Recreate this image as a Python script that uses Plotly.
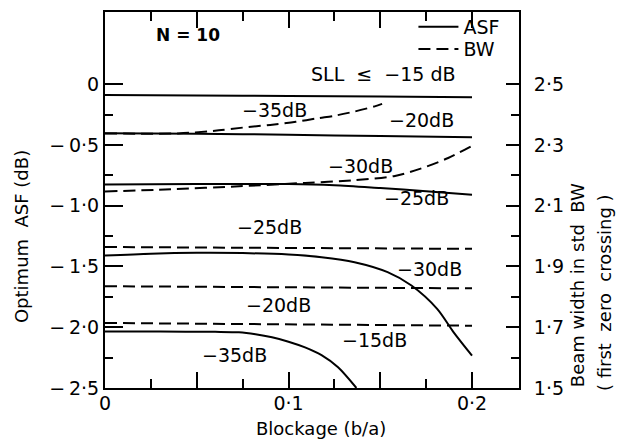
import plotly.graph_objects as go

# ---------------- data ----------------
# Blockage (b/a) values and optimum ASF (dB) for each SLL constraint (solid lines, left axis)
asf15_x = [0, 0.05, 0.1, 0.15, 0.2]
asf15_y = [-0.09, -0.093, -0.097, -0.102, -0.107]
asf20_x = [0, 0.05, 0.1, 0.15, 0.2]
asf20_y = [-0.404, -0.408, -0.416, -0.427, -0.437]
asf25_x = [0, 0.05, 0.1, 0.125, 0.15, 0.175, 0.2]
asf25_y = [-0.825, -0.822, -0.822, -0.832, -0.855, -0.88, -0.91]
asf30_x = [0, 0.025, 0.05, 0.075, 0.1, 0.118, 0.136, 0.154, 0.167, 0.181, 0.19, 0.2]
asf30_y = [-1.41, -1.395, -1.388, -1.39, -1.402, -1.424, -1.465, -1.547, -1.657, -1.849, -2.042, -2.234]
asf35_x = [0, 0.03, 0.06, 0.073, 0.082, 0.091, 0.1, 0.109, 0.118, 0.127, 0.137]
asf35_y = [-2.036, -2.036, -2.038, -2.042, -2.058, -2.083, -2.119, -2.166, -2.23, -2.33, -2.5]

# Beam width in std BW (dashed lines, right axis)
bw35_x = [0, 0.04, 0.062, 0.075, 0.09, 0.104, 0.116, 0.125, 0.136, 0.147, 0.151]
bw35_y = [2.338, 2.338, 2.348, 2.357, 2.366, 2.376, 2.388, 2.396, 2.41, 2.427, 2.435]
bw30_x = [0, 0.036, 0.073, 0.109, 0.136, 0.158, 0.172, 0.187, 0.2]
bw30_y = [2.147, 2.154, 2.164, 2.175, 2.184, 2.198, 2.222, 2.257, 2.297]
bw25_x = [0, 0.2]
bw25_y = [1.964, 1.958]
bw20_x = [0, 0.2]
bw20_y = [1.835, 1.828]
bw15_x = [0, 0.2]
bw15_y = [1.714, 1.705]

# axis ticks
x_tickvals = [0, 0.05, 0.1, 0.15, 0.2]
x_ticktext = ["0", "", "0·1", "", "0·2"]
x_minor = [0.025, 0.075, 0.125, 0.175]
y_tickvals = [0, -0.5, -1.0, -1.5, -2.0, -2.5]
y_ticktext = ["0", "−\u20090·5", "−\u20091·0", "−\u20091·5", "−\u20092·0", "−\u20092·5"]
y_minor = [-0.25, -0.75, -1.25, -1.75, -2.25]
y2_tickvals = [2.5, 2.3, 2.1, 1.9, 1.7, 1.5]
y2_ticktext = ["2·5", "2·3", "2·1", "1·9", "1·7", "1·5"]
y2_minor = [2.4, 2.2, 2.0, 1.8, 1.6]

# curve labels: (text, x, y on left axis)
labels = [
    ("SLL  ≤  −15 dB", 0.1515, 0.082),
    ("−35dB", 0.0926, -0.214),
    ("−20dB", 0.1722, -0.297),
    ("−30dB", 0.139, -0.676),
    ("−25dB", 0.170, -0.94),
    ("−25dB", 0.0899, -1.179),
    ("−30dB", 0.1766, -1.517),
    ("−20dB", 0.0943, -1.814),
    ("−15dB", 0.1466, -2.102),
    ("−35dB", 0.0703, -2.226),
]

FONT = "DejaVu Sans"
BLACK = "black"
fig = go.Figure()

solid = [(asf15_x, asf15_y), (asf20_x, asf20_y), (asf25_x, asf25_y),
         (asf30_x, asf30_y), (asf35_x, asf35_y)]
for i, (xs, ys) in enumerate(solid):
    fig.add_trace(go.Scatter(x=xs, y=ys, mode="lines", name="ASF",
                             showlegend=(i == 0), legend="legend",
                             line=dict(color=BLACK, width=2, shape="spline", smoothing=0.8),
                             yaxis="y"))

dashed = [(bw35_x, bw35_y), (bw30_x, bw30_y), (bw25_x, bw25_y),
          (bw20_x, bw20_y), (bw15_x, bw15_y)]
for i, (xs, ys) in enumerate(dashed):
    fig.add_trace(go.Scatter(x=xs, y=ys, mode="lines", name="BW",
                             showlegend=(i == 0), legend="legend2",
                             line=dict(color=BLACK, width=2, dash="12px,6px",
                                       shape="spline", smoothing=0.8),
                             yaxis="y2"))

ann = []
for t, x, y in labels:
    ann.append(dict(text=t, x=x, y=y, xref="x", yref="y", showarrow=False,
                    xanchor="center", yanchor="middle",
                    font=dict(family=FONT, size=19, color=BLACK)))
ann.append(dict(text="<b>N = 10</b>", x=0.0452, y=0.404, xref="x", yref="y",
                xanchor="center", yanchor="middle",
                showarrow=False, font=dict(family=FONT, size=17, color=BLACK)))
# axis titles
ann.append(dict(text="Optimum  ASF (dB)", x=-0.203, y=0.404, xref="paper", yref="paper",
                xanchor="center", yanchor="middle",
                textangle=-90, showarrow=False, font=dict(family=FONT, size=18, color=BLACK)))
ann.append(dict(text="Beam width in std  BW", x=1.143, y=0.274, xref="paper", yref="paper",
                xanchor="center", yanchor="middle",
                textangle=-90, showarrow=False, font=dict(family=FONT, size=18, color=BLACK)))
ann.append(dict(text="( first  zero  crossing )", x=1.205, y=0.255, xref="paper", yref="paper",
                xanchor="center", yanchor="middle",
                textangle=-90, showarrow=False, font=dict(family=FONT, size=18, color=BLACK)))
ann.append(dict(text="Blockage (b/a)", x=0.522, y=-0.109, xref="paper", yref="paper",
                xanchor="center", yanchor="middle",
                showarrow=False, font=dict(family=FONT, size=18, color=BLACK)))

leg_common = dict(xanchor="left", yanchor="top", bgcolor="rgba(0,0,0,0)", borderwidth=0,
                  font=dict(family=FONT, size=19, color=BLACK), itemwidth=40)

yr = [-2.5, 0.594]
fig.update_layout(
    width=617, height=442,
    margin=dict(l=105, r=98, t=12, b=54, autoexpand=False),
    paper_bgcolor="white", plot_bgcolor="white",
    font=dict(family=FONT, size=18, color=BLACK),
    showlegend=True,
    legend=dict(x=0.745, y=1.011, **leg_common),
    legend2=dict(x=0.745, y=0.952, **leg_common),
    annotations=ann,
    xaxis=dict(range=[0, 0.2256], tickmode="array", tickvals=x_tickvals, ticktext=x_ticktext,
               ticks="inside", ticklen=16, tickwidth=2, tickcolor=BLACK,
               minor=dict(tickmode="array", tickvals=x_minor, ticks="inside", ticklen=9,
                          tickwidth=2, tickcolor=BLACK),
               showline=True, linewidth=2, linecolor=BLACK, mirror="ticks",
               showgrid=False, zeroline=False, ticklabelstandoff=-3,
               tickfont=dict(family=FONT, size=19, color=BLACK)),
    yaxis=dict(range=yr, tickmode="array", tickvals=y_tickvals, ticktext=y_ticktext,
               ticks="inside", ticklen=18, tickwidth=2, tickcolor=BLACK,
               minor=dict(tickmode="array", tickvals=y_minor, ticks="inside", ticklen=8,
                          tickwidth=2, tickcolor=BLACK),
               showline=True, linewidth=2, linecolor=BLACK,
               showgrid=False, zeroline=False,
               tickfont=dict(family=FONT, size=19, color=BLACK)),
    yaxis2=dict(range=[2.5 + 0.4 * yr[0], 2.5 + 0.4 * yr[1]], overlaying="y", side="right",
                tickmode="array", tickvals=y2_tickvals, ticktext=y2_ticktext,
                ticks="inside", ticklen=13, tickwidth=2, tickcolor=BLACK,
                minor=dict(tickmode="array", tickvals=y2_minor, ticks="inside", ticklen=8,
                           tickwidth=2, tickcolor=BLACK),
                showline=True, linewidth=2, linecolor=BLACK,
                showgrid=False, zeroline=False, ticklabelstandoff=9,
                tickfont=dict(family=FONT, size=19, color=BLACK)),
)

fig.write_html("out.html", config={"displayModeBar": False},
               post_script="document.body.style.margin='0';document.body.style.padding='0';")
